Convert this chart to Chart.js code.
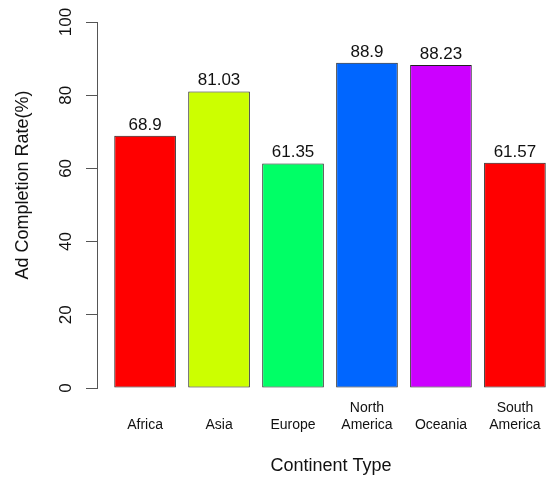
<!DOCTYPE html>
<html>
<head>
<meta charset="utf-8">
<script src="https://cdn.jsdelivr.net/npm/chart.js@4.4.1/dist/chart.umd.min.js"></script>
<style>
  html, body { margin: 0; padding: 0; background: #fff; overflow: hidden; }
  #wrap { width: 563px; height: 481px; }
</style>
</head>
<body>
<div id="wrap"><canvas id="adChart" width="563" height="481"></canvas></div>
<script>
// data
const continents = ['Africa', 'Asia', 'Europe', 'North America', 'Oceania', 'South America'];
const completionRate = [68.9, 81.03, 61.35, 88.9, 88.23, 61.57];
const barColors = ['#FF0000', '#CCFF00', '#00FF66', '#0066FF', '#CC00FF', '#FF0000'];
const yTicks = [0, 20, 40, 60, 80, 100];

// R barplot style positions: bar width 1, space 0.2
const barCenters = continents.map((c, i) => 0.7 + 1.2 * i);

const FONT = '"Liberation Sans", Arial, Helvetica, sans-serif';

const labelsPlugin = {
    id: 'rLabels',
    afterDraw(chart) {
        const ctx = chart.ctx;
        const x = chart.scales.x;
        const y = chart.scales.y;
        ctx.save();
        ctx.fillStyle = '#111';

        // values above bars
        ctx.font = '17px ' + FONT;
        ctx.textAlign = 'center';
        ctx.textBaseline = 'alphabetic';
        completionRate.forEach((v, i) => {
            ctx.fillText(String(v), x.getPixelForValue(barCenters[i]), y.getPixelForValue(v) - 6);
        });

        // category names, bottom aligned
        ctx.font = '14px ' + FONT;
        ctx.textBaseline = 'middle';
        continents.forEach((name, i) => {
            const cx = x.getPixelForValue(barCenters[i]);
            const parts = name.split(' ');
            parts.reverse().forEach((p, k) => {
                ctx.fillText(p, cx, 425 - k * 16.5);
            });
        });

        // y tick labels, rotated
        ctx.font = '17px ' + FONT;
        yTicks.forEach(t => {
            ctx.save();
            ctx.translate(66, y.getPixelForValue(t));
            ctx.rotate(-Math.PI / 2);
            ctx.fillText(String(t), 0, 0);
            ctx.restore();
        });

        // axis titles
        ctx.font = '18px ' + FONT;
        ctx.fillText('Continent Type', 331, 466);
        ctx.save();
        ctx.translate(23, 185);
        ctx.rotate(-Math.PI / 2);
        ctx.fillText('Ad Completion Rate(%)', 0, 0);
        ctx.restore();

        ctx.restore();
    }
};

new Chart(document.getElementById('adChart'), {
    type: 'bar',
    data: {
        datasets: [{
            data: completionRate.map((v, i) => ({ x: barCenters[i], y: v })),
            backgroundColor: barColors,
            borderColor: '#222',
            borderWidth: 1,
            borderSkipped: false,
            categoryPercentage: 1,
            barPercentage: 1 / 1.2
        }]
    },
    options: {
        responsive: false,
        animation: false,
        layout: { padding: { top: 22, bottom: 93, left: 0, right: 0 } },
        plugins: {
            legend: { display: false },
            tooltip: { enabled: false }
        },
        scales: {
            x: {
                type: 'linear',
                min: -0.08,
                max: 7.48,
                offset: false,
                grid: { offset: false },
                afterBuildTicks: scale => {
                    scale.ticks = barCenters.map(v => ({ value: v }));
                },
                display: false
            },
            y: {
                min: 0,
                max: 100,
                afterBuildTicks: scale => {
                    scale.ticks = yTicks.map(v => ({ value: v }));
                },
                afterFit: scale => { scale.width = 97; },
                ticks: { display: false },
                border: { display: true, color: '#555', width: 1 },
                grid: {
                    drawOnChartArea: false,
                    drawTicks: true,
                    tickLength: 11,
                    color: '#555'
                }
            }
        }
    },
    plugins: [labelsPlugin]
});
</script>
</body>
</html>
